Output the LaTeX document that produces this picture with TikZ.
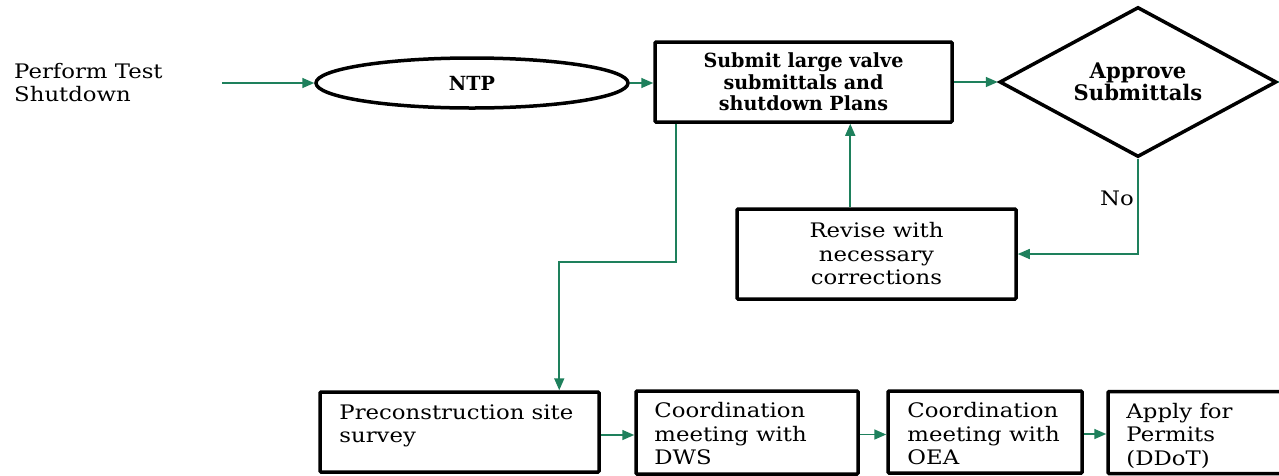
\documentclass[tikz,border=0pt]{standalone}
\usepackage{fontspec}
\setmainfont{DejaVu Serif}[FakeStretch=1.14]
\newfontfamily\bfam{DejaVu Serif}[FakeStretch=0.98]
\usetikzlibrary{arrows.meta,shapes.geometric,calc}
\definecolor{flow}{RGB}{30,128,92}
\begin{document}
\begin{tikzpicture}[x=1pt,y=-1pt,
  box/.style={draw=black, line width=3.5pt, rounded corners=1pt, inner sep=0pt},
  conn/.style={draw=flow, line width=1.6pt, -{Triangle[length=12pt,width=10pt]}},
  txt/.style={font=\fontsize{20}{23.5}\selectfont, inner sep=0pt},
  btxt/.style={font=\bfam\bfseries\fontsize{19.5}{21.5}\selectfont, inner sep=0pt, align=center},
  dtxt/.style={font=\bfam\bfseries\fontsize{21.5}{22.5}\selectfont, inner sep=0pt, align=center}]
\clip (0,0) rectangle (1279,475);
\useasboundingbox (0,0) rectangle (1279,475);
% left text
\node[txt, align=left, anchor=north west] (perf) at (14,63) {Perform Test\\Shutdown};
\coordinate (s0) at (222,83);
% NTP
\node[draw=black, line width=3.5pt, ellipse, minimum width=312pt, minimum height=50pt, inner sep=0pt, btxt] (ntp) at (472,83) {NTP};
% submit
\node[box, minimum width=297pt, minimum height=80pt, btxt] (sub) at (803.5,82) {Submit large valve\\submittals and\\shutdown Plans};
% diamond
\node[draw=black, line width=3.5pt, diamond, aspect=1.85, minimum width=277pt, minimum height=150pt, inner sep=0pt, dtxt] (dia) at (1138,82) {Approve\\Submittals};
% revise
\node[box, minimum width=279pt, minimum height=90pt, txt, align=center] (rev) at (876.5,254) {Revise with\\necessary\\corrections};
% bottom boxes
\node[box, minimum width=279pt, minimum height=80pt] (pre) at (459.5,432) {};
\node[box, minimum width=222pt, minimum height=83pt] (dws) at (747,432.5) {};
\node[box, minimum width=194pt, minimum height=82pt] (oea) at (985,432) {};
\node[box, minimum width=200pt, minimum height=82pt] (app) at (1208,432.5) {};
\node[txt, align=left, anchor=north west] (pret) at ([xshift=21pt,yshift=-14pt]pre.north west) {Preconstruction site\\survey};
\node[txt, align=left, anchor=north west] (dwst) at ([xshift=20pt,yshift=-13pt]dws.north west) {Coordination\\meeting with\\DWS};
\node[txt, align=left, anchor=north west] (oeat) at ([xshift=21pt,yshift=-13pt]oea.north west) {Coordination\\meeting with\\OEA};
\node[txt, align=left, anchor=north west] (appt) at ([xshift=20pt,yshift=-13pt]app.north west) {Apply for\\Permits\\(DDoT)};
% No label
\node[txt, anchor=center] (no) at (1117,198) {No};
% connectors
\draw[conn] (s0) -- (ntp.west);
\draw[conn] (ntp.east) -- (ntp.east -| sub.west);
\draw[conn] (sub.east) -- (sub.east -| dia.west);
\draw[draw=flow, line width=1.6pt] (dia.east) -- ++(6,0);
\draw[conn] (dia.south) |- (rev.east);
\draw[conn] ([xshift=115pt]rev.north west) -- ([xshift=115pt]rev.north west |- sub.south);
\draw[conn] ([xshift=23pt]sub.south west) -- ++(0,138) -| ([xshift=241pt]pre.north west);
\draw[conn] ([yshift=-3pt]pre.east) -- ([yshift=-3pt]pre.east -| dws.west);
\draw[conn] ([yshift=-2pt]dws.east) -- ([yshift=-2pt]dws.east -| oea.west);
\draw[conn] ([yshift=-2pt]oea.east) -- ([yshift=-2pt]oea.east -| app.west);
\end{tikzpicture}
\end{document}
